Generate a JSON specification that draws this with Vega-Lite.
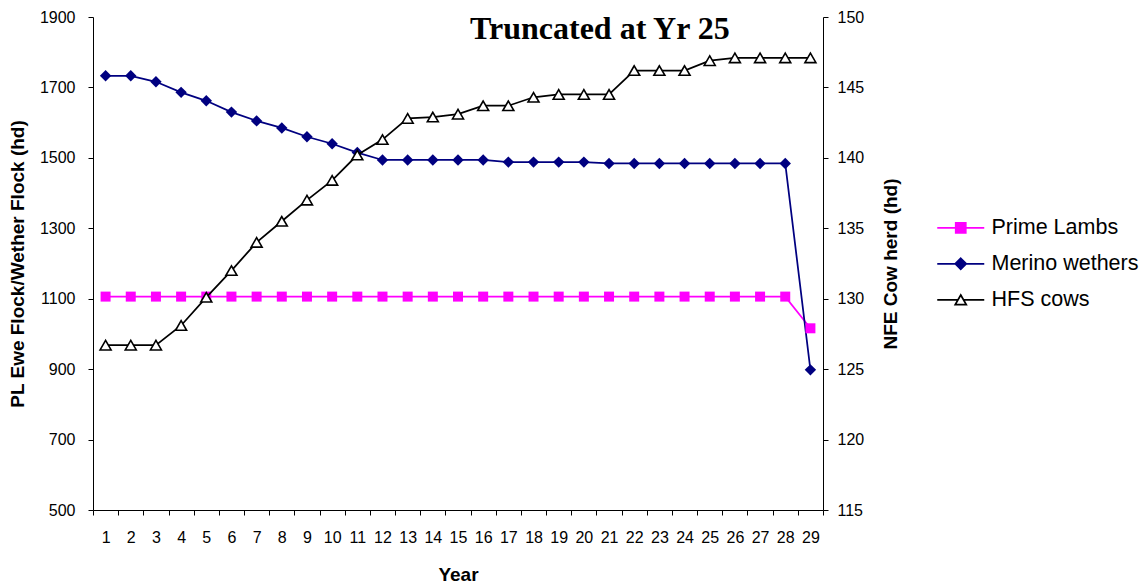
{
  "$schema": "https://vega.github.io/schema/vega-lite/v6.json",
  "width": 730,
  "height": 493,
  "autosize": {"type": "none"},
  "padding": {"left": 93, "top": 17, "right": 321, "bottom": 75},
  "background": "white",
  "config": {
    "view": {"stroke": null},
    "font": "Liberation Sans",
    "axis": {
      "domainColor": "black",
      "tickColor": "black",
      "labelColor": "black",
      "titleColor": "black",
      "labelFont": "Liberation Sans",
      "titleFont": "Liberation Sans",
      "labelFontSize": 16,
      "titleFontSize": 19,
      "titleFontWeight": "bold",
      "tickSize": 5,
      "grid": false,
      "labelOverlap": false
    }
  },
  "title": {
    "text": "Truncated at Yr 25",
    "font": "Liberation Serif",
    "fontSize": 32,
    "fontWeight": "bold",
    "color": "black",
    "anchor": "start",
    "frame": "group",
    "offset": 0,
    "dx": 377,
    "dy": 37
  },
  "datasets": {
    "sheep": [
      {"year": 1, "series": "Prime Lambs", "value": 1106},
      {"year": 2, "series": "Prime Lambs", "value": 1106},
      {"year": 3, "series": "Prime Lambs", "value": 1106},
      {"year": 4, "series": "Prime Lambs", "value": 1106},
      {"year": 5, "series": "Prime Lambs", "value": 1106},
      {"year": 6, "series": "Prime Lambs", "value": 1106},
      {"year": 7, "series": "Prime Lambs", "value": 1106},
      {"year": 8, "series": "Prime Lambs", "value": 1106},
      {"year": 9, "series": "Prime Lambs", "value": 1106},
      {"year": 10, "series": "Prime Lambs", "value": 1106},
      {"year": 11, "series": "Prime Lambs", "value": 1106},
      {"year": 12, "series": "Prime Lambs", "value": 1106},
      {"year": 13, "series": "Prime Lambs", "value": 1106},
      {"year": 14, "series": "Prime Lambs", "value": 1106},
      {"year": 15, "series": "Prime Lambs", "value": 1106},
      {"year": 16, "series": "Prime Lambs", "value": 1106},
      {"year": 17, "series": "Prime Lambs", "value": 1106},
      {"year": 18, "series": "Prime Lambs", "value": 1106},
      {"year": 19, "series": "Prime Lambs", "value": 1106},
      {"year": 20, "series": "Prime Lambs", "value": 1106},
      {"year": 21, "series": "Prime Lambs", "value": 1106},
      {"year": 22, "series": "Prime Lambs", "value": 1106},
      {"year": 23, "series": "Prime Lambs", "value": 1106},
      {"year": 24, "series": "Prime Lambs", "value": 1106},
      {"year": 25, "series": "Prime Lambs", "value": 1106},
      {"year": 26, "series": "Prime Lambs", "value": 1106},
      {"year": 27, "series": "Prime Lambs", "value": 1106},
      {"year": 28, "series": "Prime Lambs", "value": 1106},
      {"year": 29, "series": "Prime Lambs", "value": 1016},
      {"year": 1, "series": "Merino wethers", "value": 1733},
      {"year": 2, "series": "Merino wethers", "value": 1733},
      {"year": 3, "series": "Merino wethers", "value": 1716},
      {"year": 4, "series": "Merino wethers", "value": 1686},
      {"year": 5, "series": "Merino wethers", "value": 1662},
      {"year": 6, "series": "Merino wethers", "value": 1630},
      {"year": 7, "series": "Merino wethers", "value": 1605},
      {"year": 8, "series": "Merino wethers", "value": 1585},
      {"year": 9, "series": "Merino wethers", "value": 1560},
      {"year": 10, "series": "Merino wethers", "value": 1540},
      {"year": 11, "series": "Merino wethers", "value": 1515},
      {"year": 12, "series": "Merino wethers", "value": 1494},
      {"year": 13, "series": "Merino wethers", "value": 1494},
      {"year": 14, "series": "Merino wethers", "value": 1494},
      {"year": 15, "series": "Merino wethers", "value": 1494},
      {"year": 16, "series": "Merino wethers", "value": 1494},
      {"year": 17, "series": "Merino wethers", "value": 1488},
      {"year": 18, "series": "Merino wethers", "value": 1488},
      {"year": 19, "series": "Merino wethers", "value": 1488},
      {"year": 20, "series": "Merino wethers", "value": 1488},
      {"year": 21, "series": "Merino wethers", "value": 1484},
      {"year": 22, "series": "Merino wethers", "value": 1484},
      {"year": 23, "series": "Merino wethers", "value": 1484},
      {"year": 24, "series": "Merino wethers", "value": 1484},
      {"year": 25, "series": "Merino wethers", "value": 1484},
      {"year": 26, "series": "Merino wethers", "value": 1484},
      {"year": 27, "series": "Merino wethers", "value": 1484},
      {"year": 28, "series": "Merino wethers", "value": 1484},
      {"year": 29, "series": "Merino wethers", "value": 898}
    ],
    "cows": [
      {"year": 1, "series": "HFS cows", "value": 126.7},
      {"year": 2, "series": "HFS cows", "value": 126.7},
      {"year": 3, "series": "HFS cows", "value": 126.7},
      {"year": 4, "series": "HFS cows", "value": 128.1},
      {"year": 5, "series": "HFS cows", "value": 130.1},
      {"year": 6, "series": "HFS cows", "value": 132.0},
      {"year": 7, "series": "HFS cows", "value": 134.0},
      {"year": 8, "series": "HFS cows", "value": 135.5},
      {"year": 9, "series": "HFS cows", "value": 137.0},
      {"year": 10, "series": "HFS cows", "value": 138.4},
      {"year": 11, "series": "HFS cows", "value": 140.2},
      {"year": 12, "series": "HFS cows", "value": 141.3},
      {"year": 13, "series": "HFS cows", "value": 142.8},
      {"year": 14, "series": "HFS cows", "value": 142.9},
      {"year": 15, "series": "HFS cows", "value": 143.1},
      {"year": 16, "series": "HFS cows", "value": 143.7},
      {"year": 17, "series": "HFS cows", "value": 143.7},
      {"year": 18, "series": "HFS cows", "value": 144.3},
      {"year": 19, "series": "HFS cows", "value": 144.5},
      {"year": 20, "series": "HFS cows", "value": 144.5},
      {"year": 21, "series": "HFS cows", "value": 144.5},
      {"year": 22, "series": "HFS cows", "value": 146.2},
      {"year": 23, "series": "HFS cows", "value": 146.2},
      {"year": 24, "series": "HFS cows", "value": 146.2},
      {"year": 25, "series": "HFS cows", "value": 146.9},
      {"year": 26, "series": "HFS cows", "value": 147.1},
      {"year": 27, "series": "HFS cows", "value": 147.1},
      {"year": 28, "series": "HFS cows", "value": 147.1},
      {"year": 29, "series": "HFS cows", "value": 147.1}
    ],
    "cut": [{"year": 28}]
  },
  "encoding": {
    "x": {
      "field": "year",
      "type": "ordinal",
      "scale": {"type": "band", "paddingInner": 0, "paddingOuter": 0},
      "axis": {
        "title": "Year",
        "labelAngle": 0,
        "tickBand": "extent",
        "labelPadding": 14,
        "titlePadding": 20
      }
    }
  },
  "layer": [
    {
      "data": {"name": "sheep"},
      "encoding": {
        "y": {
          "field": "value",
          "type": "quantitative",
          "scale": {"domain": [500, 1900], "nice": false, "zero": false},
          "axis": {
            "title": "PL Ewe Flock/Wether Flock (hd)",
            "format": "d",
            "values": [500, 700, 900, 1100, 1300, 1500, 1700, 1900],
            "labelPadding": 13,
            "titlePadding": 12
          }
        }
      },
      "layer": [
        {
          "mark": {"type": "line", "strokeWidth": 1.75},
          "encoding": {
            "color": {
              "field": "series",
              "type": "nominal",
              "scale": {"domain": ["Prime Lambs", "Merino wethers", "HFS cows"], "range": ["#FF00FF", "#000080", "#000000"]},
              "legend": {
                "title": null,
                "orient": "none",
                "legendX": 857,
                "legendY": 200,
                "padding": 0,
                "labelFont": "Liberation Sans",
                "labelFontSize": 21.5,
                "labelColor": "black",
                "labelOffset": 20,
                "rowPadding": 13,
                "symbolSize": 100,
                "encoding": {
                  "symbols": {
                    "shape": {"value": {"expr": "datum.value === 'Prime Lambs' ? 'M -4.7 0 H 4.7 M -1 -1 H 1 V 1 H -1 Z' : datum.value === 'Merino wethers' ? 'M -4.7 0 H 4.7 M 0 -1.1 L 1.1 0 L 0 1.1 L -1.1 0 Z' : 'M -4.7 0 H -0.55 M 0.55 0 H 4.7 M 0 -0.95 L 1.1 0.95 L -1.1 0.95 Z'"}},
                    "fill": {"value": {"expr": "datum.value === 'Prime Lambs' ? '#FF00FF' : datum.value === 'Merino wethers' ? '#000080' : '#FFFFFF'"}},
                    "stroke": {"value": {"expr": "datum.value === 'Prime Lambs' ? '#FF00FF' : datum.value === 'Merino wethers' ? '#000080' : '#000000'"}},
                    "strokeWidth": {"value": 1.75},
                    "size": {"value": 100},
                    "opacity": {"value": 1}
                  }
                }
              }
            }
          }
        },
        {
          "transform": [{"filter": "datum.series === 'Prime Lambs'"}],
          "mark": {"type": "point", "shape": "square", "size": 100, "filled": true, "color": "#FF00FF", "opacity": 1}
        },
        {
          "transform": [{"filter": "datum.series === 'Merino wethers'"}],
          "mark": {"type": "point", "shape": "diamond", "size": 130, "filled": true, "color": "#000080", "opacity": 1}
        },
        {
          "data": {"name": "cut"},
          "mark": {"type": "rule", "color": "black", "strokeWidth": 2.5},
          "encoding": {
            "x": {"field": "year", "type": "ordinal", "bandPosition": 0.66},
            "y": {"datum": 1886},
            "y2": {"datum": 500}
          }
        }
      ]
    },
    {
      "data": {"name": "cows"},
      "encoding": {
        "y": {
          "field": "value",
          "type": "quantitative",
          "scale": {"domain": [115, 150], "nice": false, "zero": false},
          "axis": {
            "title": "NFE Cow herd (hd)",
            "orient": "right",
            "values": [115, 120, 125, 130, 135, 140, 145, 150],
            "labelPadding": 9,
            "titlePadding": 18,
            "titleAngle": 270,
            "titleBaseline": "top"
          }
        }
      },
      "layer": [
        {
          "mark": {"type": "line", "strokeWidth": 1.75, "color": "#000000"}
        },
        {
          "mark": {"type": "point", "shape": "triangle-up", "size": 121, "strokeWidth": 1.6, "opacity": 1},
          "encoding": {
            "fill": {"value": "#FFFFFF"},
            "stroke": {"value": "#000000"}
          }
        }
      ]
    }
  ],
  "resolve": {"scale": {"y": "independent"}}
}
